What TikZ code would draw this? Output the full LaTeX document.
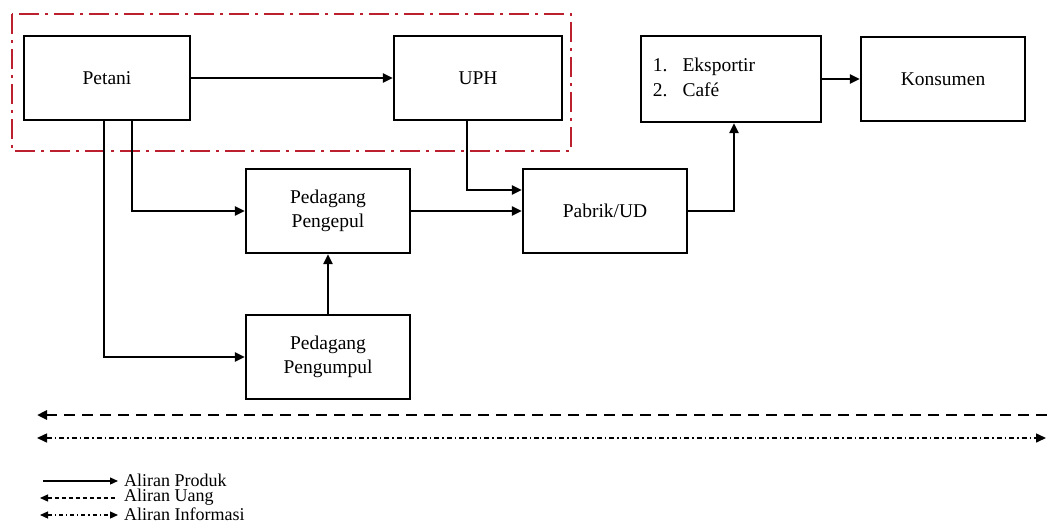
\documentclass[tikz,border=0pt]{standalone}
\usepackage{fontspec}
\setmainfont{Liberation Serif}
\usepackage{xcolor}
\definecolor{chainred}{RGB}{188,32,46}
\usetikzlibrary{
  arrows.meta,
  positioning,
  calc
}

\begin{document}
\begin{tikzpicture}[
  x=1pt, y=-1pt,
  actor/.style={
    draw, rectangle, line width=2.2pt, minimum width=164pt, minimum height=84pt,
    font=\fontsize{19.5}{23.5}\selectfont, align=center, inner sep=2pt
  },
  arr/.style={-{Triangle[length=10pt,width=9pt]}, line width=2.2pt},
  legarr/.style={line width=1.2pt},
  uang/.style={dash pattern=on 11pt off 7pt, line width=2.8pt},
  info/.style={dash pattern=on 5pt off 3pt on 1.5pt off 3pt, line width=1.5pt},
  legtext/.style={anchor=west, inner sep=0pt, font=\fontsize{18}{20}\selectfont},
]
\useasboundingbox (0,0) rectangle (1048,524);

% Actors of the chain
\node[actor, minimum width=166pt]
  (petani) at (107,78) {Petani};
\node[actor, minimum width=168pt]
  (uph) at (478,78) {UPH};
\node[actor]
  (pengepul) at (328,211) {Pedagang\\Pengepul};
\node[actor]
  (pabrik) at (605,211) {Pabrik/UD};
\node[actor]
  (pengumpul) at (328,357) {Pedagang\\Pengumpul};
\node[actor, minimum width=180pt, minimum height=86pt, align=left]
  (ekspor) at (731,79)
  {\renewcommand{\arraystretch}{1.08}%
   \raisebox{-2pt}{\begin{tabular}{@{}l@{\hspace{15pt}}l@{}}1.&Eksportir\\2.&Café\end{tabular}}\hspace{54pt}};
\node[actor]
  (konsumen) at (943,79) {Konsumen};

% Red frame round Petani and UPH
\draw[chainred, line width=2.8pt, dash pattern=on 20pt off 6pt on 3pt off 6pt]
  (12,14) rectangle (571,151);

% Product flow
\draw[arr] (petani.east) -- (uph.west);
\draw[arr] ([xshift=25pt]petani.south) |- (pengepul.west);
\draw[arr] ([xshift=-3pt]petani.south) |- (pengumpul.west);
\draw[arr] ([xshift=-11pt]uph.south) |- ([yshift=21pt]pabrik.west);
\draw[arr] (pengepul.east) -- (pabrik.west);
\draw[arr] (pengumpul.north) -- (pengepul.south);
\draw[arr] (pabrik.east) -| ([xshift=3pt]ekspor.south);
\draw[arr] (ekspor.east) -- (konsumen.west);

% Money and information flow
\coordinate (uangL) at (37,415);
\coordinate (uangR) at (1050,415);
\coordinate (infoL) at (37,438);
\coordinate (infoR) at (1046,438);
\draw[uang, {Triangle[length=10pt,width=9pt]}-] (uangL) -- (uangR);
\draw[info, {Triangle[length=10pt,width=9pt]}-{Triangle[length=10pt,width=9pt]}] (infoL) -- (infoR);

% Legend
\coordinate (prodA) at (43,481);  \coordinate (prodB) at (118,481);
\coordinate (uangA) at (40,498);  \coordinate (uangB) at (116,498);
\coordinate (infoA) at (40,515);  \coordinate (infoB) at (118,515);
\draw[legarr, -{Triangle[length=8pt,width=7pt]}] (prodA) -- (prodB);
\draw[legarr, dash pattern=on 4pt off 3pt, {Triangle[length=8pt,width=7pt]}-] (uangA) -- (uangB);
\draw[legarr, dash pattern=on 4pt off 3pt on 1.2pt off 3pt,
  {Triangle[length=8pt,width=7pt]}-{Triangle[length=8pt,width=7pt]}] (infoA) -- (infoB);
\node[legtext] (lprod) at (124,480) {Aliran Produk};
\node[legtext] (luang) at (124,497) {Aliran Uang};
\node[legtext] (linfo) at (124,514) {Aliran Informasi};

\end{tikzpicture}
\end{document}
